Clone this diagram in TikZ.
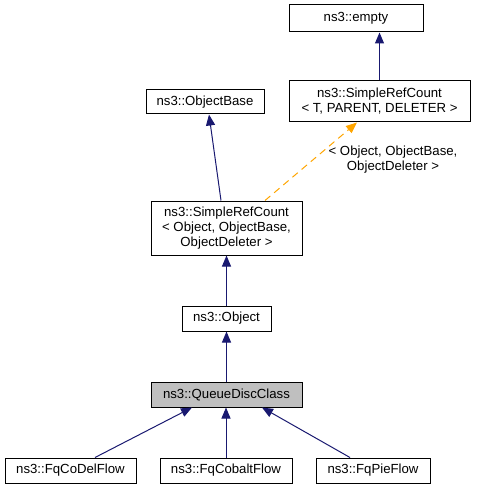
\documentclass[tikz,border=0pt]{standalone}
\usepackage{fontspec}
\setmainfont{Liberation Sans}
\usetikzlibrary{arrows.meta}
\definecolor{edgeblue}{HTML}{191970}
\definecolor{inhorange}{HTML}{FFA500}
\definecolor{hilite}{HTML}{BFBFBF}
\tikzset{
  cls/.style={draw=black, line width=1pt, inner sep=0pt, align=center, font=\fontsize{13.2}{15}\selectfont},
  edge/.style={draw=edgeblue, line width=1pt, -{Triangle[length=11pt,width=9pt]}},
  tedge/.style={draw=inhorange, line width=1pt, dash pattern=on 7pt off 5pt, -{Triangle[length=11pt,width=9pt,fill=inhorange]}},
  lbl/.style={inner sep=0pt, align=center, font=\fontsize{13.2}{15}\selectfont}
}
\begin{document}
\begin{tikzpicture}[x=1pt,y=-1pt]
\useasboundingbox (0,0) rectangle (476,489);
\node[cls, minimum width=134pt, minimum height=27pt] (empty) at (356,18.5) {ns3::empty};
\node[cls, minimum width=181pt, minimum height=41pt] (srcT) at (379.5,101.5) {ns3::SimpleRefCount\\{< T, PARENT, DELETER >}};
\node[cls, minimum width=118pt, minimum height=24pt] (objbase) at (205,102) {ns3::ObjectBase};
\node[cls, minimum width=151pt, minimum height=54pt] (srcobj) at (226.5,228) {ns3::SimpleRefCount\\{< Object, ObjectBase,}\\{ObjectDeleter >}};
\node[cls, minimum width=89pt, minimum height=25pt] (object) at (226.5,318.5) {ns3::Object};
\node[cls, fill=hilite, minimum width=151pt, minimum height=25pt] (qdc) at (226.5,394.5) {ns3::QueueDiscClass};
\node[cls, minimum width=131pt, minimum height=25pt] (codel) at (70.5,470.5) {ns3::FqCoDelFlow};
\node[cls, minimum width=132pt, minimum height=25pt] (cobalt) at (226,470.5) {ns3::FqCobaltFlow};
\node[cls, minimum width=114pt, minimum height=25pt] (pie) at (373,470.5) {ns3::FqPieFlow};
\node[lbl] (tlabel) at (393,159.5) {< Object, ObjectBase,\\ObjectDeleter >};

\draw[edge] (srcT.north) -- (srcT.north |- empty.south);
\draw[edge] ([xshift=-5.5pt]srcobj.north) -- ([xshift=4pt]objbase.south);
\draw[tedge] ([xshift=38.5pt]srcobj.north) -- ([xshift=-22.5pt]srcT.south);
\draw[edge] (object.north) -- (srcobj.south);
\draw[edge] (qdc.north) -- (object.south);
\draw[edge] ([xshift=24.5pt]codel.north) -- ([xshift=-34.5pt]qdc.south);
\draw[edge] (cobalt.north) -- (cobalt.north |- qdc.south);
\draw[edge] ([xshift=-23pt]pie.north) -- ([xshift=35.5pt]qdc.south);
\end{tikzpicture}
\end{document}
